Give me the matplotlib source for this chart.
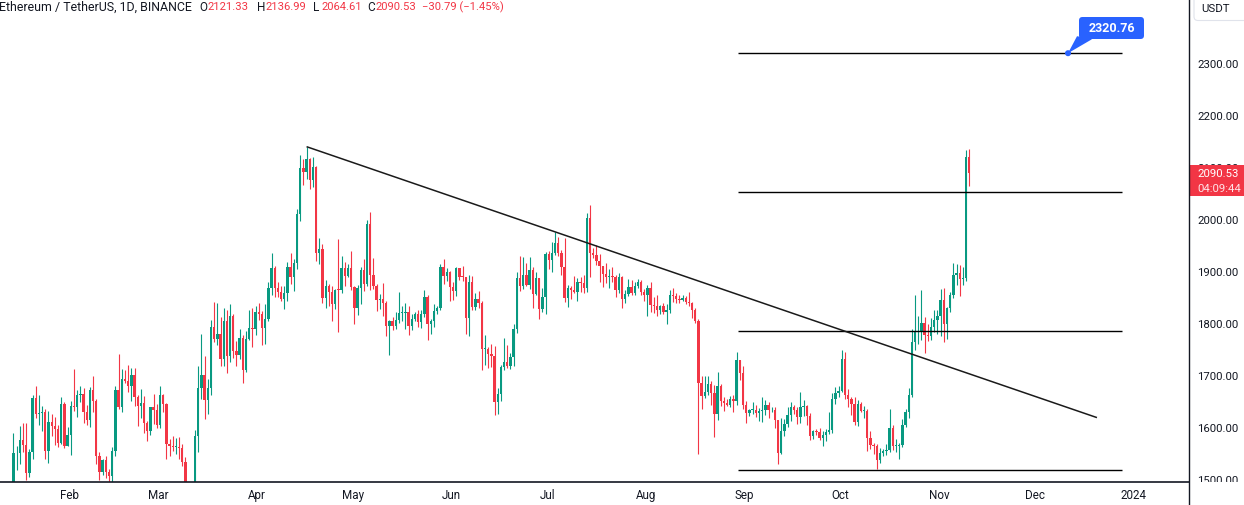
import numpy as np
import matplotlib
matplotlib.use('Agg')
import matplotlib.pyplot as plt
from matplotlib.patches import Rectangle, FancyBboxPatch, Polygon, Circle
import matplotlib.transforms as mtransforms
from matplotlib.lines import Line2D

# ---------------- data (daily O, H, L, C) ----------------
jan = [(1451,1590,1449,1551),(1551,1565,1519,1552),(1552,1603,1530,1577),(1577,1610,1553,1567),
       (1567,1609,1500,1513),(1513,1560,1506,1553),(1553,1664,1540,1658),(1658,1680,1619,1627),
       (1627,1664,1605,1628),(1628,1642,1594,1630),(1630,1637,1541,1556),(1556,1632,1532,1612),
       (1612,1627,1584,1603),(1603,1622,1567,1598),(1598,1605,1563,1572),(1572,1660,1569,1647),
       (1647,1650,1561,1566),(1566,1601,1565,1586)]
feb = [(1586,1651,1549,1642),(1642,1714,1633,1640),(1640,1673,1622,1664),(1664,1680,1650,1665),
       (1665,1677,1610,1631),(1631,1644,1605,1616),(1616,1678,1601,1673),(1673,1700,1630,1651),
       (1651,1656,1531,1546),(1546,1553,1500,1515),(1515,1541,1509,1539),(1539,1546,1504,1515),
       (1515,1522,1461,1507),(1507,1564,1493,1556),(1556,1680,1546,1674),(1674,1742,1636,1640),
       (1640,1713,1630,1694),(1694,1712,1687,1691),(1691,1721,1670,1680),(1680,1716,1652,1702),
       (1702,1715,1643,1659),(1659,1663,1603,1642),(1642,1675,1620,1648),(1648,1662,1591,1609),
       (1609,1613,1575,1594),(1594,1641,1587,1640),(1640,1665,1608,1635),(1635,1646,1600,1605)]
mar = [(1605,1680,1600,1664),(1664,1665,1630,1647),(1647,1648,1541,1569),(1569,1578,1547,1566),
       (1566,1584,1556,1564),(1564,1580,1550,1564),(1564,1582,1540,1561),(1561,1570,1527,1534),
       (1534,1545,1410,1439),(1439,1440,1368,1429),(1429,1490,1373,1479),(1479,1596,1464,1585),
       (1585,1719,1553,1677),(1677,1780,1655,1701),(1701,1738,1617,1654),(1654,1694,1627,1677),
       (1677,1807,1664,1794),(1794,1842,1765,1772),(1772,1841,1759,1780),(1780,1814,1720,1733),
       (1733,1830,1720,1806),(1806,1827,1705,1738),(1738,1838,1727,1815),(1815,1820,1735,1749),
       (1749,1767,1720,1740),(1740,1790,1733,1773),(1773,1779,1687,1712),(1712,1786,1708,1772),
       (1772,1827,1769,1792),(1792,1830,1756,1791),(1791,1835,1778,1823)]
apr = [(1823,1841,1808,1820),(1820,1825,1760,1793),(1793,1838,1762,1809),(1809,1880,1805,1869),
       (1869,1937,1856,1908),(1908,1911,1852,1870),(1870,1880,1851,1862),(1862,1873,1845,1849),
       (1849,1874,1828,1860),(1860,1919,1844,1910),(1910,1937,1876,1890),(1890,1925,1863,1918),
       (1918,2021,1906,2011),(2011,2125,1998,2100),(2100,2118,2067,2092),(2092,2141,2079,2118),
       (2118,2119,2059,2076),(2076,2121,2064,2102),(2102,2103,1921,1937),(1937,1965,1915,1944),
       (1944,1953,1841,1850),(1850,1885,1831,1873),(1873,1876,1835,1862),(1862,1873,1806,1838),
       (1838,1868,1828,1866),(1866,1963,1785,1865),(1865,1930,1860,1908),(1908,1920,1873,1892),
       (1892,1915,1890,1907),(1907,1940,1865,1871)]
may = [(1871,1874,1800,1830),(1830,1875,1818,1870),(1870,1910,1839,1904),(1904,1925,1864,1876),
       (1876,2000,1873,1992),(1992,2015,1865,1895),(1895,1926,1867,1873),(1873,1876,1825,1846),
       (1846,1857,1829,1849),(1849,1879,1815,1841),(1841,1844,1777,1797),(1797,1808,1740,1805),
       (1805,1814,1789,1797),(1797,1823,1791,1808),(1808,1862,1801,1822),(1822,1835,1805,1822),
       (1822,1840,1790,1823),(1823,1834,1778,1796),(1796,1820,1789,1810),(1810,1823,1805,1820),
       (1820,1826,1795,1803),(1803,1826,1792,1819),(1819,1865,1814,1852),(1852,1855,1770,1800),
       (1800,1810,1780,1805),(1805,1838,1795,1825),(1825,1835,1820,1830),(1830,1915,1826,1909),
       (1909,1925,1877,1892),(1892,1908,1883,1900),(1900,1902,1845,1872)]
jun = [(1872,1881,1847,1863),(1863,1909,1853,1907),(1907,1908,1884,1891),(1891,1911,1882,1890),
       (1890,1891,1780,1812),(1812,1895,1776,1880),(1880,1893,1826,1832),(1832,1860,1826,1849),
       (1849,1863,1831,1840),(1840,1844,1712,1752),(1752,1779,1721,1752),(1752,1756,1715,1742),
       (1742,1762,1717,1739),(1739,1758,1625,1650),(1650,1676,1627,1666),(1666,1721,1651,1718),
       (1718,1774,1712,1727),(1727,1760,1716,1720),(1720,1745,1713,1736),(1736,1800,1720,1791),
       (1791,1900,1782,1889),(1889,1930,1863,1873),(1873,1928,1868,1894),(1894,1917,1873,1875),
       (1875,1929,1868,1903),(1903,1909,1830,1858),(1858,1900,1856,1888),(1888,1889,1810,1829),
       (1829,1870,1823,1852),(1852,1938,1820,1934)]
jul = [(1934,1940,1905,1924),(1924,1957,1900,1937),(1937,1976,1933,1955),(1955,1968,1930,1937),
       (1937,1942,1894,1910),(1910,1965,1843,1850),(1850,1875,1833,1870),(1870,1874,1848,1865),
       (1865,1893,1860,1862),(1862,1889,1844,1880),(1880,1890,1862,1878),(1878,1894,1860,1870),
       (1870,2014,1862,2003),(2003,2029,1890,1937),(1937,1946,1926,1932),(1932,1952,1914,1921),
       (1921,1935,1880,1911),(1911,1912,1871,1897),(1897,1917,1878,1890),(1890,1906,1870,1892),
       (1892,1910,1880,1890),(1890,1894,1852,1866),(1866,1898,1859,1891),(1891,1892,1830,1849),
       (1849,1866,1840,1858),(1858,1887,1853,1872),(1872,1885,1855,1860),(1860,1880,1855,1873),
       (1873,1886,1870,1880),(1880,1884,1855,1862),(1862,1867,1845,1856)]
aug = [(1856,1875,1815,1869),(1869,1880,1823,1837),(1837,1851,1822,1835),(1835,1855,1815,1827),
       (1827,1837,1820,1834),(1834,1840,1820,1824),(1824,1838,1800,1826),(1826,1865,1821,1855),
       (1855,1870,1842,1853),(1853,1860,1841,1849),(1849,1856,1840,1847),(1847,1855,1844,1850),
       (1850,1854,1838,1843),(1843,1861,1834,1840),(1840,1842,1812,1826),(1826,1831,1802,1806),
       (1806,1810,1550,1686),(1686,1700,1636,1661),(1661,1700,1658,1670),(1670,1700,1664,1685),
       (1685,1690,1645,1668),(1668,1683,1583,1627),(1627,1708,1615,1680),(1680,1685,1642,1651),
       (1651,1660,1633,1649),(1649,1655,1642,1644),(1644,1662,1641,1656),(1656,1663,1630,1652),
       (1652,1746,1645,1730),(1730,1731,1693,1705),(1705,1719,1637,1645)]
sep = [(1645,1651,1610,1628),(1628,1637,1624,1635),(1635,1650,1627,1635),(1635,1645,1622,1628),
       (1628,1638,1614,1633),(1633,1659,1612,1635),(1635,1654,1625,1645),(1645,1650,1620,1634),
       (1634,1640,1630,1635),(1635,1640,1600,1615),(1615,1616,1531,1552),(1552,1620,1550,1594),
       (1594,1617,1585,1607),(1607,1640,1602,1625),(1625,1650,1613,1641),(1641,1645,1627,1634),
       (1634,1640,1607,1622),(1622,1670,1610,1640),(1640,1653,1624,1643),(1643,1645,1605,1624),
       (1624,1628,1577,1584),(1584,1597,1578,1594),(1594,1599,1587,1592),(1592,1600,1576,1580),
       (1580,1594,1566,1587),(1587,1598,1575,1593),(1593,1630,1588,1597),(1597,1667,1591,1656),
       (1656,1678,1646,1667),(1667,1680,1660,1671)]
oct_ = [(1671,1750,1670,1733),(1733,1746,1655,1663),(1663,1675,1640,1656),(1656,1660,1625,1647),
        (1647,1660,1605,1611),(1611,1654,1603,1646),(1646,1650,1630,1633),(1633,1642,1620,1633),
        (1633,1636,1555,1580),(1580,1595,1560,1567),(1567,1572,1550,1566),(1566,1570,1521,1539),
        (1539,1562,1532,1552),(1552,1560,1546,1555),(1555,1570,1548,1557),(1557,1636,1553,1600),
        (1600,1605,1558,1565),(1565,1579,1553,1565),(1565,1572,1541,1567),(1567,1618,1563,1605),
        (1605,1636,1601,1630),(1630,1677,1620,1663),(1663,1790,1660,1765),(1765,1855,1750,1786),
        (1786,1816,1761,1787),(1787,1865,1770,1802),(1802,1813,1745,1779),(1779,1800,1767,1776),
        (1776,1812,1770,1794),(1794,1826,1785,1808),(1808,1826,1780,1815)]
nov = [(1815,1868,1776,1846),(1846,1869,1765,1800),(1800,1833,1772,1831),(1831,1862,1823,1856),
       (1856,1917,1850,1894),(1894,1916,1875,1899),(1899,1914,1853,1886),(1886,1909,1875,1888),
       (1888,2135,1883,2121.33),(2121.33,2136.99,2064.61,2090.53)]
first_day = '2023-01-14'

level_prices = [2320.76, 2053.5, 1786.5, 1518.5]
level_span = ('2023-08-29T10', '2023-12-27T22')
trend_pts = [('2023-04-16T00', 2141.0), ('2023-12-20T02', 1620.0)]
last_price = 2090.53
countdown = '04:09:44'
price_ticks = [1500, 1600, 1700, 1800, 1900, 2000, 2100, 2200, 2300]
month_starts = ['2023-02-01', '2023-03-01', '2023-04-01', '2023-05-01', '2023-06-01', '2023-07-01',
                '2023-08-01', '2023-09-01', '2023-10-01', '2023-11-01', '2023-12-01', '2024-01-01']
month_labels = ['Feb', 'Mar', 'Apr', 'May', 'Jun', 'Jul', 'Aug', 'Sep', 'Oct', 'Nov', 'Dec', '2024']
header_parts = [('Ethereum / TetherUS, 1D, BINANCE', 'k'), ('O', 'k'), ('2121.33', 'r'), ('H', 'k'),
                ('2136.99', 'r'), ('L', 'k'), ('2064.61', 'r'), ('C', 'k'), ('2090.53', 'r'),
                ('\u221230.79 (\u22121.45%)', 'r')]

# ---------------- styling ----------------
W, H = 1244, 506
GREEN = '#089981'
RED = '#F23645'
TXT = '#131722'
BLUE = '#2962FF'
FONT = ['Roboto', 'DejaVu Sans']
plt.rcParams['font.family'] = FONT


def dnum(s):
    return np.datetime64(s, 'h').astype('int64') / 24.0


ohlc = np.array(jan + feb + mar + apr + may + jun + jul + aug + sep + oct_ + nov, dtype=float)
start = np.datetime64(first_day)
dates = start + np.arange(len(ohlc))
x = dates.astype('int64').astype(float)
o, h, l, c = ohlc.T

fig = plt.figure(figsize=(W / 100, H / 100), dpi=100)
fig.patch.set_facecolor('white')
PX = mtransforms.Affine2D().scale(1 / W, -1 / H).translate(0, 1) + fig.transFigure

ax = fig.add_axes([0, 23 / H, 1189 / W, 483 / H])
ax.axis('off')
feb1 = dnum('2023-02-01')
px_per_day = 3.186
ax.set_xlim(feb1 - 70.8 / px_per_day, feb1 + (1189 - 70.8) / px_per_day)
ax.set_ylim(1500 - 2 / 0.52, 1500 + 481 / 0.52)

# candles
up = c >= o
cols = np.where(up, GREEN, RED)
ax.vlines(x, l, h, colors=cols, linewidth=0.8, zorder=2)
body_lo = np.minimum(o, c)
body_h = np.maximum(np.abs(c - o), 1.5)
ax.bar(x, body_h, bottom=body_lo, width=0.74, color=cols, linewidth=0, zorder=3)

# horizontal levels
ax.hlines(level_prices, dnum(level_span[0]), dnum(level_span[1]), colors='#000000', linewidth=1.0, zorder=4)
# trend line
ax.plot([dnum(trend_pts[0][0]), dnum(trend_pts[1][0])], [trend_pts[0][1], trend_pts[1][1]],
        color='#1a1a1a', linewidth=1.1, zorder=4, solid_capstyle='butt')

# 2320.76 label
dot_x = dnum('2023-12-11T00')
dot_px = (ax.transData + PX.inverted()).transform((dot_x, level_prices[0]))
fig.add_artist(Circle(tuple(dot_px), 2.3, transform=PX, color=BLUE, zorder=6))
fig.add_artist(Polygon([(dot_px[0], dot_px[1]), (dot_px[0] + 9, dot_px[1] - 17),
                        (dot_px[0] + 24, dot_px[1] - 14)], closed=True, transform=PX,
                       facecolor=BLUE, edgecolor='none', zorder=6))
fig.add_artist(FancyBboxPatch((1079, 18), 65, 22, boxstyle='round,pad=0,rounding_size=3.5',
                              transform=PX, facecolor=BLUE, edgecolor='none', zorder=6))
fig.text(1111.5, 29.0, f'{level_prices[0]:.2f}', transform=PX, color='white', fontsize=9,
         fontweight='bold', ha='center', va='center', zorder=7)

# price axis
axr = fig.add_axes([1189 / W, 23 / H, 55 / W, 483 / H])
axr.axis('off')
axr.set_ylim(ax.get_ylim())
axr.set_xlim(0, 55)
tag_top = last_price + 15
for p in price_ticks:
    t = axr.text(8, p, f'{p:.2f}', color=TXT, fontsize=8.2, ha='left', va='center', clip_on=True)
    if abs(p - last_price) < 40:
        # only the sliver above the current-price tag stays visible
        clip = mtransforms.TransformedBbox(mtransforms.Bbox([[0, tag_top], [55, tag_top + 30]]), axr.transData)
        t.set_clip_box(clip)
# current price tag
axr.add_patch(Rectangle((0, last_price - 44), 55, 59, facecolor=RED, edgecolor='none', zorder=5,
                        clip_on=False))
axr.text(8, last_price - 1, f'{last_price:.2f}', color='white', fontsize=8.2, ha='left', va='center', zorder=6)
axr.text(8, last_price - 29, countdown, color='#ffe4e7', fontsize=8.2, ha='left', va='center', zorder=6)

# USDT unit box
fig.add_artist(FancyBboxPatch((1194, -6), 60, 27.5, boxstyle='round,pad=0,rounding_size=4',
                              transform=PX, facecolor='white', edgecolor='#E0E3EB', linewidth=0.8, zorder=6))
fig.text(1201, 9.5, 'USDT', transform=PX, color=TXT, fontsize=8.2, ha='left', va='center', zorder=7)

# borders
fig.add_artist(Line2D([1189, 1189], [0, H], transform=PX, color='#131722', linewidth=1.0, zorder=8))
fig.add_artist(Line2D([0, 1189], [483, 483], transform=PX, color='#131722', linewidth=1.2, zorder=8))

# time axis labels
tb = mtransforms.blended_transform_factory(ax.transData, PX)
for ms, lab in zip(month_starts, month_labels):
    fig.text(dnum(ms) - 0.5, 496, lab, transform=tb, color=TXT, fontsize=8.4, ha='center', va='center')

# header
xpos = [-1, 199, 207, 257, 265, 313, 322, 367, 375, 422]
sizes = [8.9, 8.5, 8.1, 8.5, 8.1, 8.5, 8.1, 8.5, 8.1, 8.1]
for (txt, col), xp, fs in zip(header_parts, xpos, sizes):
    fig.text(xp, 7.5, txt, transform=PX, color=(TXT if col == 'k' else RED), fontsize=fs,
             ha='left', va='center')

fig.savefig('out.png', dpi=100, facecolor='white')
